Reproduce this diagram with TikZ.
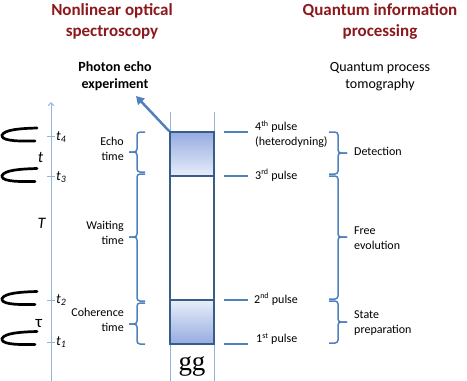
\documentclass[tikz,border=0pt]{standalone}
\usepackage{fontspec}
\setmainfont{Carlito}
\newfontfamily\serifgg{Liberation Serif}
\usetikzlibrary{arrows.meta}
\definecolor{titlered}{RGB}{140,24,28}
\definecolor{axisblue}{RGB}{149,179,215}
\definecolor{braceblue}{RGB}{79,129,189}
\definecolor{boxblue}{RGB}{56,93,138}
\definecolor{shadedark}{RGB}{149,172,224}
\definecolor{shadelight}{RGB}{232,238,249}
\newcommand{\mybraceleft}[3]{%
  \draw[bracestyle] (145,#1) -- (137,#1) -- (137,#2) -- (129,#2);
  \draw[bracestyle] (129,#2) -- (137,#2) -- (137,#3) -- (145,#3);}
\newcommand{\mybraceright}[3]{%
  \draw[bracestyle] (329,#1) -- (338,#1) -- (338,#2) -- (347,#2);
  \draw[bracestyle] (347,#2) -- (338,#2) -- (338,#3) -- (329,#3);}
\begin{document}
\begin{tikzpicture}[x=1pt,y=-1pt,
  title/.style={font=\fontsize{17}{21}\selectfont\bfseries, text=titlered, align=center, anchor=base, inner sep=0pt},
  subtitle/.style={font=\fontsize{14}{16.5}\selectfont, align=center, anchor=base, inner sep=0pt},
  lbl/.style={font=\fontsize{12}{14.5}\selectfont, inner sep=0pt},
  leftlbl/.style={lbl, align=right, anchor=base east},
  rightlbl/.style={lbl, align=left, anchor=base west},
  ticklbl/.style={font=\fontsize{14}{14}\selectfont\itshape, inner sep=0pt, anchor=base west},
  intlbl/.style={font=\fontsize{16}{16}\selectfont\itshape, inner sep=0pt, anchor=base},
  bracestyle/.style={braceblue, line width=1.5pt, rounded corners=3pt},
  dashstyle/.style={braceblue, line width=1.3pt},
  axisstyle/.style={axisblue, line width=0.9pt},
  boxstyle/.style={draw=boxblue, line width=1.5pt, minimum width=44pt, minimum height=212pt, inner sep=0pt},
  pulseshape/.pic={\draw[line width=2.7pt, line cap=round] (35,-8.5) .. controls (18,-8) and (3,-7) .. (0,-1.5) .. controls (-1,3.5) and (10,5) .. (33,4.5);}
]
\useasboundingbox (0,0) rectangle (467,381);

% titles (anchor base = last line)
\node[title] (tleft) at (112,36) {Nonlinear optical\\spectroscopy};
\node[title] (tright) at (380,36) {Quantum information\\processing};
\node[subtitle, font=\fontsize{14}{16.5}\selectfont\bfseries] (photon) at (115,88) {Photon echo\\experiment};
\node[subtitle] (qpt) at (380,88) {Quantum process\\tomography};

% column
\coordinate (colLtop) at (170,112);
\coordinate (colLbot) at (170,381);
\coordinate (colRtop) at (214,112);
\coordinate (colRbot) at (214,381);
\draw[axisstyle] (colLtop) -- (colLbot);
\draw[axisstyle] (colRtop) -- (colRbot);

% box
\shade[top color=shadedark, bottom color=shadelight] (170,132) rectangle (214,176);
\shade[top color=shadelight, bottom color=shadedark] (170,300) rectangle (214,344);
\node[boxstyle] (box) at (192,238) {};
\coordinate (d3L) at (170,176);
\coordinate (d3R) at (214,176);
\coordinate (d2L) at (170,300);
\coordinate (d2R) at (214,300);
\draw[boxblue, line width=1.5pt] (d3L) -- (d3R);
\draw[boxblue, line width=1.5pt] (d2L) -- (d2R);
\node[font=\serifgg\fontsize{27}{27}\selectfont, anchor=base, inner sep=0pt] (gg) at (192,370) {gg};

% arrow to photon echo
\coordinate (echotip) at (136,96);
\draw[braceblue, line width=2.5pt, -{Triangle[length=8pt,width=9pt]}] (box.north west) -- (echotip);

% time axis
\coordinate (axbot) at (51,381);
\coordinate (axtop) at (51,102);
\draw[axisstyle, -{Straight Barb[length=3pt,width=6pt]}] (axbot) -- (axtop);
\foreach \yy/\nm in {136/4,176/3,300/2,342/1}{
  \coordinate (tk\nm a) at (47,\yy);
  \coordinate (tk\nm b) at (55,\yy);
  \draw[axisstyle] (tk\nm a) -- (tk\nm b);
}
\node[ticklbl] (t4) at (56,140) {t\textsubscript{4}};
\node[ticklbl] (t3) at (56,180) {t\textsubscript{3}};
\node[ticklbl] (t2) at (56,303) {t\textsubscript{2}};
\node[ticklbl] (t1) at (56,345) {t\textsubscript{1}};
\node[intlbl] (tt) at (40.5,162) {t};
\node[intlbl] (TT) at (41.5,228) {T};
\node[font=\fontsize{17}{17}\selectfont, inner sep=0pt, anchor=base] (tau) at (39,327) {τ};

% pulses
\pic at (2,136.5) {pulseshape};
\pic at (2,177) {pulseshape};
\pic at (2,300) {pulseshape};
\pic at (2,340) {pulseshape};

% left labels and braces
\node[leftlbl] (echo) at (124,160) {Echo\\time};
\node[leftlbl] (wait) at (124,244) {Waiting\\time};
\node[leftlbl] (coh) at (124,331) {Coherence\\time};
\mybraceleft{132}{152}{172}
\mybraceleft{174}{237}{301}
\mybraceleft{303}{324}{344}

% pulse dashes and labels
\foreach \yy/\nm in {132/4,176/3,300/2,344/1}{
  \coordinate (ds\nm a) at (224,\yy);
  \coordinate (ds\nm b) at (248,\yy);
  \draw[dashstyle] (ds\nm a) -- (ds\nm b);
}
\node[rightlbl] (p4) at (255,145) {4\textsuperscript{th} pulse\\(heterodyning)};
\node[rightlbl] (p3) at (255,179) {3\textsuperscript{rd} pulse};
\node[rightlbl] (p2) at (254,303) {2\textsuperscript{nd} pulse};
\node[rightlbl] (p1) at (256,342.5) {1\textsuperscript{st} pulse};

% right braces and labels
\mybraceright{132}{153}{174}
\mybraceright{176}{237}{299}
\mybraceright{301}{322}{343}
\node[rightlbl] (det) at (354,155.5) {Detection};
\node[rightlbl] (free) at (354,249) {Free\\evolution};
\node[rightlbl] (state) at (354,333) {State\\preparation};
\end{tikzpicture}
\end{document}
